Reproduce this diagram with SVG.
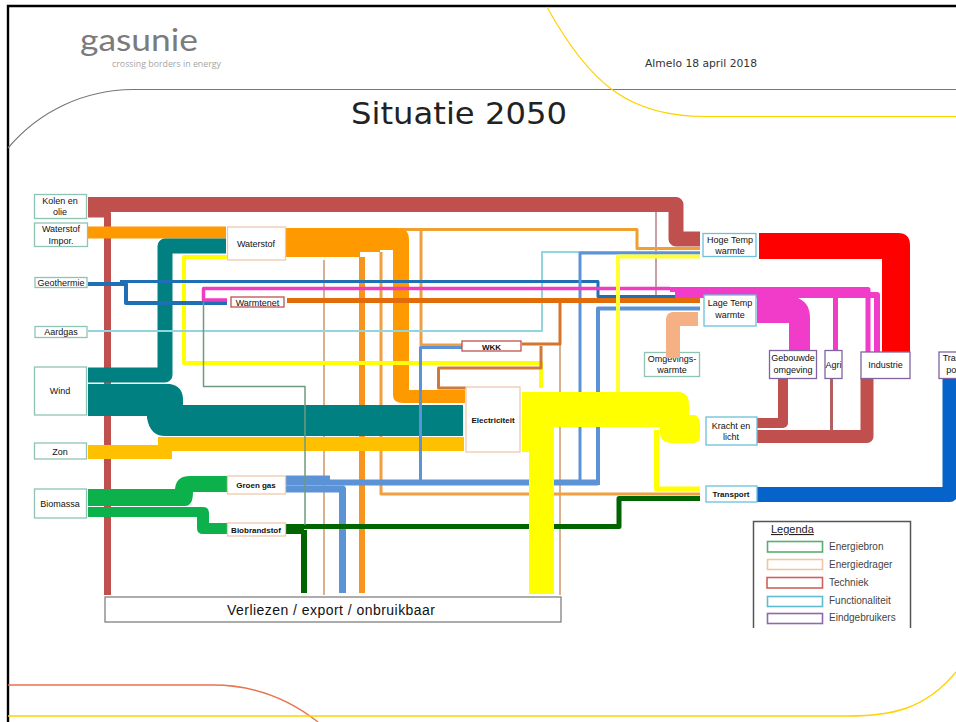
<svg xmlns="http://www.w3.org/2000/svg" width="956" height="722" viewBox="0 0 956 722">
<style>
text{font-family:"Liberation Sans",Arial,sans-serif;font-size:9px;fill:#111;text-anchor:middle}
.h{font-family:"DejaVu Sans",Verdana,sans-serif;text-anchor:start}
.n rect{fill:#fff;stroke-width:1.3}
.src rect{stroke:#8fc4b4}.car rect{stroke:#efc9ad}.tec rect{stroke:#c0504d}.fun rect{stroke:#6cc0d8}.end rect{stroke:#8064a2}
.c path{fill:none;stroke-linejoin:round}
.c .fill path{stroke:none}
.teal{fill:#008080 !important}.gold{fill:#ffc000 !important}.grn{fill:#0db14b !important}.org{fill:#ff9900 !important}.pink{fill:#f03cc8 !important}.red{fill:#ff0000 !important}.yel{fill:#ffff00 !important}
.leg rect{fill:#fff;stroke-width:1.6}
.leg text{font-size:10px;text-anchor:start;fill:#444}
.b{font-weight:bold;font-size:8px}
</style>
<rect width="956" height="722" fill="#fff"/>
<g id="frame" fill="none">
<path d="M8,722V6H956" stroke="#000" stroke-width="2.4"/>
<path d="M8,148C40,110 85,90 133,89.500H956" stroke="#777" stroke-width="1.200"/>
<path d="M547,7C590,85 630,116.500 705,116.500H956" stroke="#ffd200" stroke-width="1.200"/>
<path d="M8,685H213C255,685 290,700 318,722" stroke="#e8734f" stroke-width="1.300"/>
<path d="M8,716H848C890,716 925,710 956,672" stroke="#ffd200" stroke-width="1.400"/>
</g>
<g id="logo">
<text x="80" y="51" textLength="118" lengthAdjust="spacingAndGlyphs" style="font-family:Lato,sans-serif;font-size:31px;fill:#7b7b7b;text-anchor:start">gasunie</text>
<text x="112" y="67" textLength="109" lengthAdjust="spacingAndGlyphs" style="font-family:'Open Sans',sans-serif;font-size:9px;fill:#a5a5a5;text-anchor:start">crossing borders in energy</text>
</g>
<text class="h" x="645" y="67" textLength="112" lengthAdjust="spacingAndGlyphs" style="font-size:10.200px;fill:#333">Almelo 18 april 2018</text>
<text class="h" x="351" y="124" textLength="216" lengthAdjust="spacingAndGlyphs" style="font-size:31px;fill:#222">Situatie 2050</text>

<g id="node-omgevingswarmte" class="n src"><rect x="644.500" y="352.500" width="55" height="24"/><text x="672" y="362">Omgevings-</text><text x="672" y="373">warmte</text></g>

<g id="connectors" class="c">
<path d="M88,204.500H676V239H700" stroke="#c0504d" stroke-width="15"/>
<path d="M88,214H107.500V595" stroke="#c0504d" stroke-width="7"/>
<path d="M656,212V295" stroke="#c8a0a4" stroke-width="2"/>
<path d="M324,260V595" stroke="#dbb08e" stroke-width="2"/>
<path d="M560,345V595" stroke="#dbb08e" stroke-width="2"/>
<path d="M362,257V593" stroke="#f7941d" stroke-width="6"/>
<path d="M381,252V494H700" stroke="#f0a040" stroke-width="3"/>
<path d="M421,230V345H462" stroke="#ee9f45" stroke-width="3"/>
<path d="M400,229.500H637V248.500H700" stroke="#f0a030" stroke-width="3"/>
<path d="M88,232.500H226" stroke="#ff9900" stroke-width="12"/>
<g class="fill"><path class="org" d="M286,228H398Q409,228 409,240V390H465V403H403Q393,403 393,395V250H380V252H360V257H286Z"/></g>
<path d="M88,375H165V246H226" stroke="#008080" stroke-width="15"/>
<g class="fill">
<path class="teal" d="M88,384H170Q183,386 183,400V405H463V436H165Q150,436 147,418V416H88Z"/>
<path class="gold" d="M88,445H158V437H464V451H172V459H88Z"/>
<path class="grn" d="M88,489H175Q176,476 190,476H227V492H193Q193,506 185,506H88Z"/>
<path class="grn" d="M88,507H203Q209,507 209,513V523H227V534H203Q197,534 197,528V517H88Z"/>
</g>
<path d="M227,257H184V363H541V388" stroke="#ffff00" stroke-width="4"/>
<path d="M88,331H542V252H700" stroke="#92d5dc" stroke-width="2"/>
<path d="M88,284H126V303H227" stroke="#1f6fb5" stroke-width="4"/>
<path d="M120,281.500H598V296.500H700" stroke="#1f6fb5" stroke-width="3"/>
<path d="M462,347.500H420.500V481" stroke="#5b93d6" stroke-width="3"/>
<path d="M580,480V253H700" stroke="#5b93d6" stroke-width="3"/>
<path d="M598,485V308.500H700" stroke="#5b93d6" stroke-width="4"/>
<path d="M286,482.500H598" stroke="#5b93d6" stroke-width="6"/>
<path d="M286,489H342.500V593" stroke="#5b93d6" stroke-width="7"/>
<path d="M286,478H330" stroke="#5b93d6" stroke-width="5"/>
<path d="M287,300.500H700" stroke="#e36c0a" stroke-width="5"/>
<path d="M560,303V344H522" stroke="#d5742c" stroke-width="3"/>
<path d="M541,346V368H438.500V388H466" stroke="#d07a3a" stroke-width="3"/>
<path d="M227,300H203.500V288.500H670" stroke="#ee3dbe" stroke-width="3.500"/>
<path d="M670,289.500H868V352" stroke="#f03cc8" stroke-width="5"/>
<path d="M675,295H877V352" stroke="#f03cc8" stroke-width="6"/>
<path d="M835.500,297V350" stroke="#f03cc8" stroke-width="5"/>
<g class="fill"><path class="pink" d="M757,298H798Q810,303 810,318V350H789V323H757Z"/>
<path class="red" d="M759,233H898Q910,233 910,245V352H882V259H759Z"/></g>
<path d="M673,358V319H698" stroke="#f5b183" stroke-width="14"/>
<path d="M757,423H783V378" stroke="#c0504d" stroke-width="10"/>
<path d="M757,436.500H867V378" stroke="#c0504d" stroke-width="13"/>
<path d="M831.500,378V431" stroke="#b0615f" stroke-width="3"/>
<path d="M757,494.500H950V357" stroke="#0563c9" stroke-width="15"/>
<path d="M286,529H304" stroke="#006400" stroke-width="10"/>
<path d="M304,530V593" stroke="#006400" stroke-width="6"/>
<path d="M300,526.500H619V498.500H700" stroke="#006400" stroke-width="5"/>
<path d="M203.500,302V386.500H305V525" stroke="#6f9a7c" stroke-width="1.500"/>
<path d="M618,392V256.500H700" stroke="#ffff33" stroke-width="4"/>
<path d="M656.500,430V489H700" stroke="#ffff00" stroke-width="5"/>
<g class="fill"><path class="yel" d="M522,392H680Q689,393 689,405V415H695Q700,417 700,425V437Q700,443 692,443H672Q660,443 660,432V427H554V594H529V452H522Z"/></g>
</g>

<g id="node-kolen" class="n src"><rect x="34.500" y="194.500" width="52" height="24"/><text x="60" y="203.500">Kolen en</text><text x="60" y="215">olie</text></g>
<g id="node-waterstof-import" class="n src"><rect x="34.500" y="223" width="53" height="23.500"/><text x="61" y="232">Waterstof</text><text x="61" y="244">Impor.</text></g>
<g id="node-geothermie" class="n src"><rect x="35" y="277.500" width="52" height="10"/><text x="61" y="286">Geothermie</text></g>
<g id="node-aardgas" class="n src"><rect x="35" y="326.500" width="52" height="11"/><text x="61" y="335">Aardgas</text></g>
<g id="node-wind" class="n src"><rect x="34.500" y="367" width="52" height="48"/><text x="60" y="394">Wind</text></g>
<g id="node-zon" class="n src"><rect x="34.500" y="443" width="52" height="16"/><text x="60" y="454.500">Zon</text></g>
<g id="node-biomassa" class="n src"><rect x="34.500" y="489" width="52" height="29"/><text x="60" y="507">Biomassa</text></g>
<g id="node-waterstof" class="n car"><rect x="227.500" y="227" width="58" height="33"/><text x="256" y="247">Waterstof</text></g>
<g id="node-warmtenet" class="n tec"><rect x="231" y="297" width="53" height="10"/><text x="257.500" y="305.500">Warmtenet</text></g>
<g id="node-wkk" class="n tec"><rect x="462" y="341" width="59" height="10"/><text x="491.500" y="349.500" class="b">WKK</text></g>
<g id="node-electriciteit" class="n car"><rect x="466" y="387" width="54" height="65"/><text x="493" y="423" class="b">Electriciteit</text></g>
<g id="node-groen-gas" class="n car"><rect x="227.500" y="476" width="58" height="18"/><text x="256" y="488" class="b">Groen gas</text></g>
<g id="node-biobrandstof" class="n car"><rect x="227.500" y="523" width="58" height="13"/><text x="256" y="533" class="b">Biobrandstof</text></g>
<g id="node-verliezen" class="n"><rect x="105" y="597" width="456" height="25" style="stroke:#808080"/><text x="331" y="615" style="font-size:14px" textLength="208">Verliezen / export / onbruikbaar</text></g>
<g id="node-hoge-temp" class="n fun"><rect x="703" y="233.500" width="53" height="23"/><text x="730" y="243">Hoge Temp</text><text x="730" y="254">warmte</text></g>
<g id="node-lage-temp" class="n fun"><rect x="704" y="295" width="52" height="31"/><text x="730" y="306">Lage Temp</text><text x="730" y="318">warmte</text></g>
<g id="node-gebouwde" class="n end"><rect x="769.500" y="350.500" width="47" height="28"/><text x="793" y="361">Gebouwde</text><text x="793" y="373">omgeving</text></g>
<g id="node-agri" class="n end"><rect x="825" y="350.500" width="17" height="28"/><text x="833.500" y="368">Agri</text></g>
<g id="node-industrie" class="n end"><rect x="861" y="352" width="49" height="26.500"/><text x="885.500" y="368">Industrie</text></g>
<g id="node-transport-eind" class="n end"><rect x="939" y="352" width="30" height="26.500"/><text x="954" y="361">Trans</text><text x="954" y="373">port</text></g>
<g id="node-kracht" class="n fun"><rect x="706" y="417" width="51" height="28"/><text x="731" y="429">Kracht en</text><text x="731" y="440">licht</text></g>
<g id="node-transport" class="n fun"><rect x="706" y="486" width="51" height="16"/><text x="731" y="497" class="b">Transport</text></g>

<g id="legend" class="leg">
<path d="M753.500,628V521.500H910.500V628" style="fill:#fff" stroke="#555" stroke-width="1.500"/>
<text x="771" y="533" text-decoration="underline" style="font-size:11px;fill:#222">Legenda</text>
<rect x="767.500" y="541.500" width="55" height="10.500" stroke="#5cad72"/><text x="829" y="550">Energiebron</text>
<rect x="767.500" y="559.500" width="55" height="10" stroke="#f2c5a0"/><text x="829" y="568">Energiedrager</text>
<rect x="767" y="577.500" width="55.500" height="10.500" stroke="#d0605c"/><text x="829" y="586">Techniek</text>
<rect x="767.500" y="596.500" width="55" height="10" stroke="#60bcd0"/><text x="829" y="604">Functionaliteit</text>
<rect x="767.500" y="613.500" width="55" height="10" stroke="#9068ac"/><text x="829" y="621">Eindgebruikers</text>
</g>
</svg>
